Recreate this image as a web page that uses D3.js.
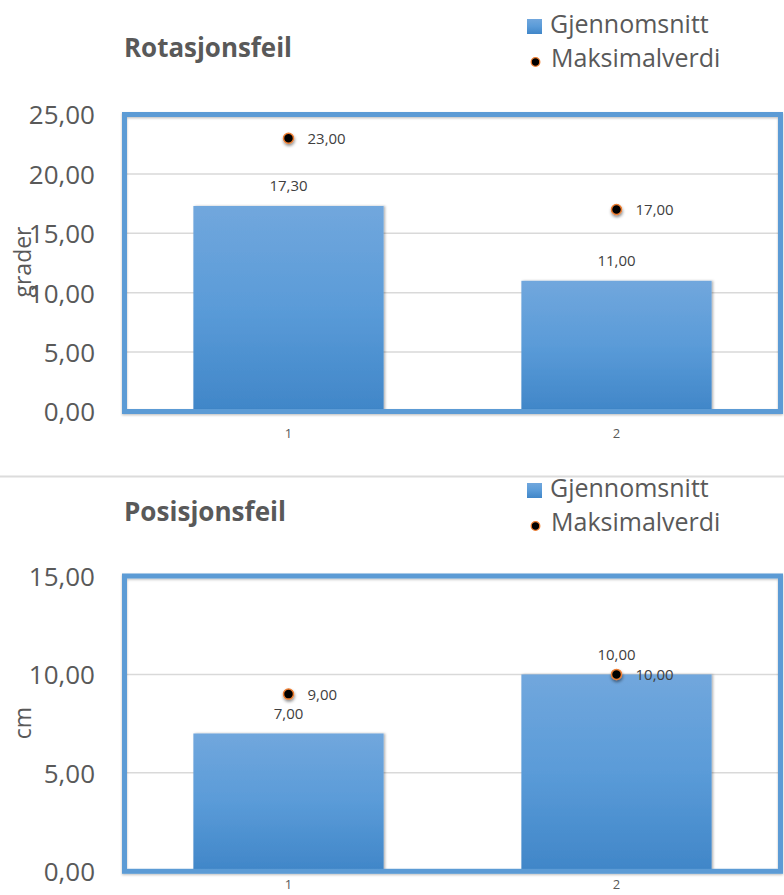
<!DOCTYPE html>
<html>
<head>
<meta charset="utf-8">
<script src="https://cdn.jsdelivr.net/npm/d3@7"></script>
<style>
  html, body { margin: 0; padding: 0; background: #fff; }
  svg { display: block; }
</style>
</head>
<body>
<script>
// Chart data
const categories = ["1", "2"];
const seriesNames = ["Gjennomsnitt", "Maksimalverdi"];

const rotasjonSnitt = [17.3, 11.0];
const rotasjonMaks = [23.0, 17.0];
const rotasjonTicks = [0, 5, 10, 15, 20, 25];

const posisjonSnitt = [7.0, 10.0];
const posisjonMaks = [9.0, 10.0];
const posisjonTicks = [0, 5, 10, 15];

const W = 784, H = 895;
const FONT = "'Open Sans', 'Liberation Sans', sans-serif";
const TEXT = "#595959";
const LABEL = "#404040";
const BLUE = "#5B9BD5";
const ORANGE = "#ED7D31";

const nb = d3.formatLocale({ decimal: ",", thousands: " ", grouping: [3], currency: ["", " kr"] });
const fmt = nb.format(".2f");

const svg = d3.select("body").append("svg")
  .attr("width", W).attr("height", H)
  .style("font-family", FONT);

const defs = svg.append("defs");
const grad = defs.append("linearGradient").attr("id", "barGrad")
  .attr("x1", 0).attr("y1", 0).attr("x2", 0).attr("y2", 1);
grad.append("stop").attr("offset", "0%").attr("stop-color", "#71A7DD");
grad.append("stop").attr("offset", "50%").attr("stop-color", "#5A9BD8");
grad.append("stop").attr("offset", "100%").attr("stop-color", "#4086C8");

defs.append("filter").attr("id", "barShadow")
  .attr("x", "-10%").attr("y", "-10%").attr("width", "125%").attr("height", "120%")
  .append("feDropShadow").attr("dx", 1.5).attr("dy", 0).attr("stdDeviation", 1.2)
  .attr("flood-color", "#000").attr("flood-opacity", 0.3);

defs.append("filter").attr("id", "dotShadow")
  .attr("x", "-100%").attr("y", "-100%").attr("width", "300%").attr("height", "300%")
  .append("feDropShadow").attr("dx", 0.5).attr("dy", 2).attr("stdDeviation", 1.6)
  .attr("flood-color", "#000").attr("flood-opacity", 0.45);

defs.append("filter").attr("id", "frameShadow")
  .attr("x", "-5%").attr("y", "-5%").attr("width", "110%").attr("height", "110%")
  .append("feDropShadow").attr("dx", 0).attr("dy", 1.2).attr("stdDeviation", 0.8)
  .attr("flood-color", "#000").attr("flood-opacity", 0.25);

// Thin separator between the two panels
svg.append("line")
  .attr("x1", 0).attr("x2", W).attr("y1", 476.5).attr("y2", 476.5)
  .attr("stroke", "#DCDCDC").attr("stroke-width", 2);

function drawPanel(cfg) {
  const g = svg.append("g");
  const left = 124.5, right = 780.5;

  const x = d3.scaleBand().domain(categories)
    .range([left, right]).paddingInner(0.42).paddingOuter(0.21);
  const y = d3.scaleLinear()
    .domain([0, d3.max(cfg.ticks)])
    .range([cfg.plotBottom, cfg.plotTop]);

  // Title
  g.append("text")
    .attr("x", 124).attr("y", cfg.titleY)
    .attr("font-size", 26).attr("font-weight", "bold")
    .attr("fill", TEXT)
    .attr("textLength", cfg.titleLen).attr("lengthAdjust", "spacingAndGlyphs")
    .text(cfg.title);

  // Legend
  const lg = g.append("g").attr("transform", `translate(0,${cfg.legendY})`);
  lg.append("rect").attr("x", 527).attr("y", 0).attr("width", 15).attr("height", 15)
    .attr("fill", "url(#barGrad)");
  lg.append("text").attr("x", 550).attr("y", 14)
    .attr("font-size", 25).attr("fill", TEXT).text(seriesNames[0]);
  lg.append("circle").attr("cx", 535.5).attr("cy", 43).attr("r", 4.3)
    .attr("fill", "#000").attr("stroke", ORANGE).attr("stroke-width", 1.3);
  lg.append("text").attr("x", 551).attr("y", 48)
    .attr("font-size", 25).attr("fill", TEXT).text(seriesNames[1]);

  // Gridlines
  g.append("g").selectAll("line")
    .data(cfg.ticks.filter(t => t > 0 && t < d3.max(cfg.ticks)))
    .join("line")
    .attr("x1", left).attr("x2", right)
    .attr("y1", d => y(d)).attr("y2", d => y(d))
    .attr("stroke", "#D9D9D9").attr("stroke-width", 1.5);

  // Bars (average)
  g.append("g").selectAll("rect")
    .data(cfg.avg)
    .join("rect")
    .attr("x", (d, i) => x(categories[i]))
    .attr("width", x.bandwidth())
    .attr("y", d => y(d))
    .attr("height", d => y(0) - y(d))
    .attr("fill", "url(#barGrad)")
    .attr("filter", "url(#barShadow)");

  // Plot frame
  g.append("rect")
    .attr("x", left).attr("y", cfg.plotTop)
    .attr("width", right - left).attr("height", cfg.plotBottom - cfg.plotTop)
    .attr("fill", "none").attr("stroke", BLUE).attr("stroke-width", 5)
    .attr("filter", "url(#frameShadow)");

  // Y axis
  const ya = g.append("g").attr("transform", "translate(95,0)")
    .call(d3.axisLeft(y).tickValues(cfg.ticks).tickSize(0).tickPadding(0).tickFormat(fmt));
  ya.select(".domain").remove();
  ya.selectAll("text")
    .attr("font-family", FONT).attr("font-size", 26)
    .attr("fill", TEXT).attr("dy", "0.36em");

  // X axis
  const xa = g.append("g").attr("transform", `translate(0,${y(0)})`)
    .call(d3.axisBottom(x).tickSize(0).tickPadding(cfg.xPad));
  xa.select(".domain").remove();
  xa.selectAll("text")
    .attr("font-family", FONT).attr("font-size", 13).attr("fill", TEXT);

  // Y axis title
  g.append("text")
    .attr("transform", `translate(31,${cfg.yTitleY}) rotate(-90)`)
    .attr("text-anchor", "middle")
    .attr("font-size", 23).attr("fill", TEXT)
    .text(cfg.yTitle);

  // Bar value labels
  g.append("g").selectAll("text")
    .data(cfg.avg)
    .join("text")
    .attr("x", (d, i) => x(categories[i]) + x.bandwidth() / 2)
    .attr("y", d => y(d) - 20)
    .attr("dy", "0.36em")
    .attr("text-anchor", "middle")
    .attr("font-size", 15).attr("fill", LABEL)
    .text(d => fmt(d));

  // Maximum markers
  g.append("g").selectAll("circle")
    .data(cfg.max)
    .join("circle")
    .attr("cx", (d, i) => x(categories[i]) + x.bandwidth() / 2)
    .attr("cy", d => y(d))
    .attr("r", 5)
    .attr("fill", "#000").attr("stroke", ORANGE).attr("stroke-width", 1.5)
    .attr("filter", "url(#dotShadow)");

  g.append("g").selectAll("text")
    .data(cfg.max)
    .join("text")
    .attr("x", (d, i) => x(categories[i]) + x.bandwidth() / 2 + 19)
    .attr("y", d => y(d))
    .attr("dy", "0.36em")
    .attr("font-size", 15).attr("fill", LABEL)
    .text(d => fmt(d));
}

drawPanel({
  title: "Rotasjonsfeil", titleY: 57, titleLen: 168,
  legendY: 19,
  yTitle: "grader", yTitleY: 262,
  avg: rotasjonSnitt, max: rotasjonMaks, ticks: rotasjonTicks,
  plotTop: 114.5, plotBottom: 411.5, xPad: 17
});

drawPanel({
  title: "Posisjonsfeil", titleY: 521, titleLen: 162,
  legendY: 483,
  yTitle: "cm", yTitleY: 723,
  avg: posisjonSnitt, max: posisjonMaks, ticks: posisjonTicks,
  plotTop: 576, plotBottom: 871.3, xPad: 8.5
});
</script>
</body>
</html>
